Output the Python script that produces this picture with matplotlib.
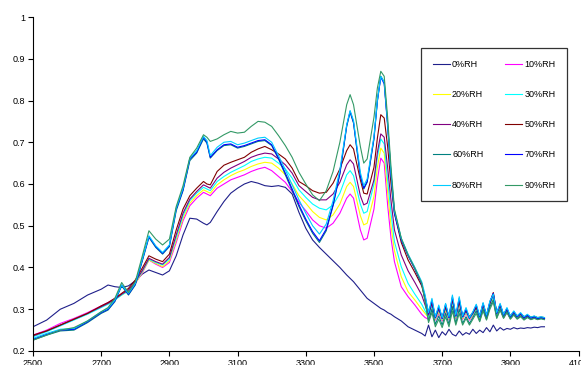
import matplotlib
matplotlib.use("Agg")
import matplotlib.pyplot as plt

plt.rcParams['font.family'] = ['Liberation Sans', 'DejaVu Sans']

# wavenumber grid (cm-1): smooth part, then the noisy tail every 10
wavenumber = [2500, 2540, 2580, 2620, 2660, 2700, 2720, 2740, 2760, 2780,
              2800, 2820, 2840, 2860, 2880, 2900, 2920, 2940, 2960, 2980,
              3000, 3010, 3020, 3040, 3060, 3080, 3100, 3120, 3140, 3160,
              3180, 3200, 3220, 3240, 3260, 3280, 3300, 3320, 3340, 3360,
              3380, 3400, 3420, 3430, 3440, 3460, 3470, 3480, 3500, 3510,
              3520, 3530, 3540, 3550, 3560, 3580, 3600, 3620, 3640] + list(range(3650, 4001, 10))

rh0 = [0.258, 0.274, 0.300, 0.314, 0.334, 0.348, 0.358, 0.354, 0.352, 0.356,
       0.368, 0.384, 0.394, 0.388, 0.382, 0.392, 0.428, 0.478, 0.518, 0.516,
       0.506, 0.502, 0.508, 0.534, 0.558, 0.578, 0.590, 0.600, 0.606, 0.602,
       0.596, 0.594, 0.596, 0.592, 0.576, 0.532, 0.494, 0.466, 0.448, 0.432,
       0.416, 0.400, 0.382, 0.374, 0.366, 0.346, 0.336, 0.326, 0.314, 0.308,
       0.302, 0.298, 0.292, 0.288, 0.282, 0.272, 0.258, 0.250, 0.242,
       0.236, 0.262, 0.234, 0.250, 0.232, 0.246, 0.238, 0.252, 0.240, 0.236,
       0.248, 0.238, 0.244, 0.240, 0.252, 0.242, 0.250, 0.244, 0.256, 0.246,
       0.262, 0.248, 0.256, 0.250, 0.254, 0.252, 0.256, 0.253, 0.255, 0.254,
       0.256, 0.255, 0.257, 0.256, 0.258, 0.258]

rh10 = [0.238, 0.250, 0.266, 0.278, 0.292, 0.308, 0.316, 0.326, 0.336, 0.344,
        0.362, 0.386, 0.418, 0.408, 0.400, 0.412, 0.460, 0.512, 0.548, 0.566,
        0.580, 0.576, 0.572, 0.590, 0.600, 0.610, 0.616, 0.622, 0.630, 0.636,
        0.640, 0.632, 0.618, 0.604, 0.582, 0.556, 0.536, 0.514, 0.500, 0.494,
        0.506, 0.530, 0.566, 0.576, 0.566, 0.490, 0.466, 0.470, 0.540, 0.610,
        0.662, 0.650, 0.550, 0.470, 0.414, 0.354, 0.330, 0.310, 0.288,
        0.280, 0.276, 0.298, 0.274, 0.290, 0.272, 0.294, 0.274, 0.310, 0.278,
        0.308, 0.276, 0.290, 0.274, 0.284, 0.298, 0.276, 0.302, 0.278, 0.306,
        0.322, 0.284, 0.300, 0.280, 0.292, 0.278, 0.288, 0.278, 0.284, 0.277,
        0.282, 0.276, 0.279, 0.276, 0.278, 0.277]

rh20 = [0.236, 0.248, 0.262, 0.276, 0.290, 0.306, 0.314, 0.324, 0.334, 0.344,
        0.362, 0.388, 0.418, 0.410, 0.402, 0.416, 0.466, 0.518, 0.554, 0.572,
        0.586, 0.582, 0.578, 0.598, 0.610, 0.620, 0.628, 0.634, 0.642, 0.648,
        0.652, 0.650, 0.638, 0.622, 0.600, 0.572, 0.554, 0.534, 0.520, 0.514,
        0.526, 0.552, 0.594, 0.604, 0.594, 0.524, 0.502, 0.506, 0.570, 0.640,
        0.686, 0.674, 0.580, 0.500, 0.440, 0.378, 0.342, 0.322, 0.300,
        0.290, 0.280, 0.304, 0.276, 0.294, 0.274, 0.298, 0.276, 0.314, 0.280,
        0.312, 0.278, 0.292, 0.276, 0.286, 0.300, 0.278, 0.304, 0.280, 0.308,
        0.326, 0.286, 0.302, 0.282, 0.294, 0.280, 0.290, 0.280, 0.286, 0.279,
        0.284, 0.278, 0.281, 0.278, 0.279, 0.278]

rh30 = [0.234, 0.246, 0.260, 0.274, 0.288, 0.304, 0.312, 0.322, 0.334, 0.344,
        0.364, 0.390, 0.420, 0.412, 0.406, 0.420, 0.472, 0.524, 0.560, 0.578,
        0.592, 0.588, 0.584, 0.606, 0.618, 0.628, 0.636, 0.644, 0.654, 0.660,
        0.664, 0.662, 0.650, 0.636, 0.614, 0.586, 0.568, 0.552, 0.542, 0.538,
        0.550, 0.578, 0.622, 0.632, 0.620, 0.552, 0.530, 0.534, 0.600, 0.664,
        0.708, 0.696, 0.610, 0.530, 0.462, 0.402, 0.362, 0.336, 0.312,
        0.296, 0.282, 0.308, 0.278, 0.298, 0.276, 0.302, 0.278, 0.318, 0.282,
        0.316, 0.280, 0.294, 0.278, 0.288, 0.302, 0.280, 0.308, 0.282, 0.312,
        0.330, 0.288, 0.306, 0.284, 0.296, 0.282, 0.292, 0.282, 0.288, 0.281,
        0.286, 0.280, 0.283, 0.279, 0.281, 0.280]

rh40 = [0.236, 0.248, 0.262, 0.276, 0.290, 0.306, 0.314, 0.324, 0.336, 0.346,
        0.366, 0.392, 0.422, 0.414, 0.408, 0.424, 0.478, 0.530, 0.564, 0.582,
        0.598, 0.594, 0.590, 0.614, 0.628, 0.638, 0.646, 0.654, 0.664, 0.670,
        0.674, 0.672, 0.660, 0.646, 0.626, 0.596, 0.582, 0.568, 0.562, 0.562,
        0.576, 0.604, 0.646, 0.658, 0.648, 0.572, 0.550, 0.554, 0.610, 0.676,
        0.720, 0.712, 0.640, 0.560, 0.490, 0.430, 0.392, 0.364, 0.334,
        0.310, 0.286, 0.314, 0.280, 0.300, 0.278, 0.304, 0.280, 0.322, 0.284,
        0.318, 0.282, 0.296, 0.280, 0.290, 0.304, 0.282, 0.310, 0.284, 0.314,
        0.336, 0.290, 0.308, 0.286, 0.298, 0.282, 0.292, 0.282, 0.288, 0.280,
        0.284, 0.279, 0.282, 0.278, 0.280, 0.278]

rh50 = [0.238, 0.248, 0.262, 0.276, 0.290, 0.308, 0.316, 0.326, 0.338, 0.350,
        0.370, 0.398, 0.428, 0.420, 0.414, 0.432, 0.490, 0.540, 0.572, 0.590,
        0.606, 0.600, 0.598, 0.630, 0.645, 0.652, 0.658, 0.664, 0.676, 0.684,
        0.690, 0.682, 0.672, 0.660, 0.638, 0.606, 0.596, 0.584, 0.578, 0.580,
        0.602, 0.636, 0.680, 0.694, 0.684, 0.610, 0.578, 0.576, 0.640, 0.710,
        0.766, 0.758, 0.690, 0.600, 0.530, 0.460, 0.418, 0.388, 0.356,
        0.325, 0.292, 0.318, 0.282, 0.304, 0.280, 0.308, 0.282, 0.326, 0.286,
        0.320, 0.284, 0.298, 0.282, 0.292, 0.306, 0.284, 0.312, 0.286, 0.316,
        0.340, 0.292, 0.310, 0.288, 0.300, 0.284, 0.294, 0.284, 0.290, 0.282,
        0.286, 0.281, 0.283, 0.280, 0.281, 0.280]

rh60 = [0.226, 0.238, 0.248, 0.250, 0.268, 0.290, 0.298, 0.318, 0.356, 0.334,
        0.358, 0.414, 0.472, 0.448, 0.432, 0.450, 0.536, 0.584, 0.656, 0.674,
        0.708, 0.698, 0.662, 0.680, 0.692, 0.694, 0.686, 0.690, 0.696, 0.702,
        0.704, 0.692, 0.660, 0.622, 0.584, 0.546, 0.512, 0.482, 0.460, 0.488,
        0.548, 0.624, 0.738, 0.772, 0.746, 0.618, 0.588, 0.604, 0.708, 0.798,
        0.858, 0.844, 0.744, 0.624, 0.534, 0.468, 0.430, 0.398, 0.362,
        0.320, 0.272, 0.300, 0.264, 0.284, 0.262, 0.290, 0.264, 0.306, 0.266,
        0.300, 0.266, 0.282, 0.266, 0.280, 0.296, 0.272, 0.300, 0.276, 0.306,
        0.322, 0.280, 0.300, 0.280, 0.294, 0.278, 0.288, 0.278, 0.284, 0.276,
        0.282, 0.276, 0.279, 0.276, 0.278, 0.276]

rh70 = [0.228, 0.240, 0.250, 0.252, 0.270, 0.292, 0.300, 0.320, 0.358, 0.336,
        0.360, 0.416, 0.474, 0.450, 0.434, 0.452, 0.540, 0.586, 0.660, 0.676,
        0.712, 0.700, 0.664, 0.682, 0.694, 0.696, 0.688, 0.692, 0.698, 0.704,
        0.706, 0.694, 0.662, 0.626, 0.588, 0.550, 0.516, 0.486, 0.464, 0.492,
        0.550, 0.626, 0.740, 0.774, 0.748, 0.620, 0.590, 0.606, 0.710, 0.800,
        0.856, 0.840, 0.740, 0.620, 0.530, 0.466, 0.428, 0.396, 0.360,
        0.330, 0.290, 0.322, 0.280, 0.306, 0.278, 0.312, 0.280, 0.330, 0.284,
        0.326, 0.282, 0.300, 0.278, 0.292, 0.310, 0.282, 0.314, 0.284, 0.318,
        0.338, 0.290, 0.312, 0.286, 0.302, 0.282, 0.294, 0.282, 0.290, 0.280,
        0.286, 0.279, 0.282, 0.278, 0.280, 0.278]

rh80 = [0.230, 0.242, 0.252, 0.254, 0.272, 0.294, 0.302, 0.322, 0.358, 0.338,
        0.362, 0.418, 0.476, 0.452, 0.436, 0.454, 0.542, 0.590, 0.662, 0.680,
        0.714, 0.704, 0.668, 0.688, 0.700, 0.702, 0.694, 0.698, 0.704, 0.710,
        0.712, 0.700, 0.668, 0.634, 0.598, 0.562, 0.530, 0.500, 0.480, 0.504,
        0.560, 0.634, 0.742, 0.776, 0.752, 0.628, 0.596, 0.612, 0.714, 0.802,
        0.858, 0.844, 0.746, 0.626, 0.536, 0.470, 0.432, 0.400, 0.366,
        0.334, 0.292, 0.326, 0.282, 0.310, 0.280, 0.314, 0.282, 0.334, 0.286,
        0.330, 0.284, 0.304, 0.280, 0.294, 0.312, 0.284, 0.316, 0.286, 0.320,
        0.336, 0.292, 0.314, 0.288, 0.304, 0.284, 0.296, 0.284, 0.292, 0.282,
        0.288, 0.281, 0.284, 0.280, 0.282, 0.280]

rh90 = [0.226, 0.238, 0.250, 0.256, 0.272, 0.294, 0.304, 0.326, 0.364, 0.340,
        0.366, 0.426, 0.488, 0.468, 0.454, 0.468, 0.546, 0.596, 0.664, 0.686,
        0.718, 0.712, 0.702, 0.708, 0.718, 0.726, 0.722, 0.724, 0.738, 0.750,
        0.748, 0.738, 0.716, 0.692, 0.664, 0.628, 0.600, 0.574, 0.560, 0.584,
        0.630, 0.700, 0.790, 0.814, 0.790, 0.690, 0.650, 0.660, 0.760, 0.830,
        0.870, 0.858, 0.760, 0.640, 0.540, 0.470, 0.430, 0.398, 0.362,
        0.318, 0.268, 0.292, 0.258, 0.276, 0.256, 0.282, 0.258, 0.296, 0.262,
        0.290, 0.262, 0.278, 0.262, 0.276, 0.290, 0.270, 0.296, 0.274, 0.300,
        0.318, 0.278, 0.298, 0.278, 0.292, 0.276, 0.286, 0.276, 0.282, 0.274,
        0.280, 0.275, 0.278, 0.275, 0.277, 0.275]

labels = ['0%RH', '10%RH', '20%RH', '30%RH', '40%RH',
          '50%RH', '60%RH', '70%RH', '80%RH', '90%RH']
series = [rh0, rh10, rh20, rh30, rh40, rh50, rh60, rh70, rh80, rh90]
colors = ['#1F1F8A', '#FF00FF', '#FFFF00', '#00FFFF', '#800080',
          '#800000', '#008080', '#0000FF', '#00CCFF', '#339966']

fig = plt.figure(figsize=(5.81, 3.65), dpi=100)
ax = fig.add_axes([0.0568, 0.0384, 0.939, 0.915])

lines = []
for vals, lab, col in zip(series, labels, colors):
    ln, = ax.plot(wavenumber, vals, color=col, lw=0.8, label=lab)
    lines.append(ln)

ax.set_xlim(2500, 4100)
ax.set_ylim(0.2, 1.0)
ax.set_xticks(range(2500, 4101, 200))
ax.set_yticks([0.2, 0.3, 0.4, 0.5, 0.6, 0.7, 0.8, 0.9, 1.0])
ax.set_yticklabels(['0.2', '0.3', '0.4', '0.5', '0.6', '0.7', '0.8', '0.9', '1'])
ax.tick_params(direction='out', length=3.5, width=0.8, labelsize=6.5, pad=2)
ax.spines['top'].set_visible(False)
ax.spines['right'].set_visible(False)

# legend filled row by row: 0/10, 20/30, ...
order = [0, 2, 4, 6, 8, 1, 3, 5, 7, 9]
leg = ax.legend([lines[i] for i in order], [labels[i] for i in order],
                ncol=2, loc='upper left', bbox_to_anchor=(0.711, 0.907, 0.268, 0.0),
                mode='expand', fontsize=6.5, frameon=True, fancybox=False,
                edgecolor='black', labelspacing=2.35, handlelength=1.9,
                handletextpad=0.25, borderpad=1.3, borderaxespad=0.0)
leg.get_frame().set_linewidth(0.9)

fig.savefig('out.png', dpi=100)
